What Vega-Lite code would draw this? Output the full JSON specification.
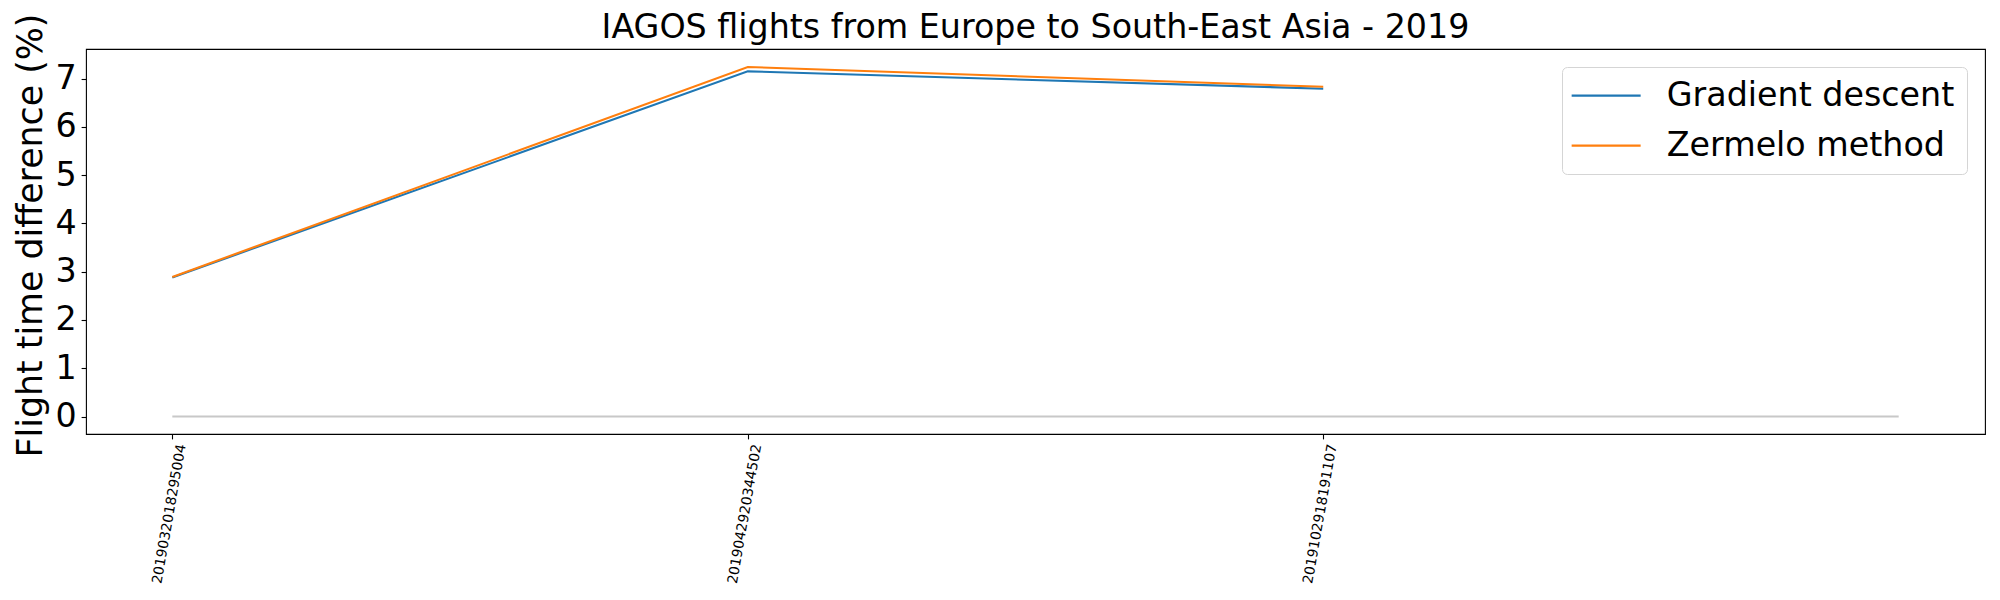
{
  "$schema": "https://vega.github.io/schema/vega-lite/v6.json",
  "autosize": {"type": "none"},
  "width": 1899,
  "height": 385,
  "padding": {"left": 86, "top": 49, "right": 15, "bottom": 166},
  "background": "white",
  "config": {
    "font": "DejaVu Sans",
    "view": {"stroke": "black", "strokeWidth": 1.1},
    "axis": {"grid": false, "domain": false, "tickColor": "black", "labelColor": "black", "titleColor": "black", "tickWidth": 1.1, "tickSize": 4.9, "labelFont": "DejaVu Sans", "titleFont": "DejaVu Sans", "titleFontWeight": "normal"}
  },
  "title": {"text": "IAGOS flights from Europe to South-East Asia - 2019", "fontSize": 33.3, "fontWeight": "normal", "font": "DejaVu Sans", "color": "black", "anchor": "middle", "frame": "group", "baseline": "alphabetic", "offset": 0, "dy": 58},
  "datasets": {
    "zero": [
      {"idx": 0, "diff": 0},
      {"idx": 1, "diff": 0},
      {"idx": 2, "diff": 0},
      {"idx": 3, "diff": 0}
    ],
    "flights": [
      {"idx": 0, "flight": "2019032018295004", "method": "Gradient descent", "diff": 2.88},
      {"idx": 1, "flight": "2019042920344502", "method": "Gradient descent", "diff": 7.15},
      {"idx": 2, "flight": "2019102918191107", "method": "Gradient descent", "diff": 6.79},
      {"idx": 0, "flight": "2019032018295004", "method": "Zermelo method", "diff": 2.89},
      {"idx": 1, "flight": "2019042920344502", "method": "Zermelo method", "diff": 7.24},
      {"idx": 2, "flight": "2019102918191107", "method": "Zermelo method", "diff": 6.83}
    ]
  },
  "encoding": {
    "x": {
      "field": "idx", "type": "quantitative",
      "scale": {"domain": [-0.15, 3.15], "nice": false, "zero": false},
      "axis": {"values": [0, 1, 2], "labelExpr": "['2019032018295004','2019042920344502','2019102918191107'][datum.value]", "labelAngle": -80, "labelFontSize": 13.9, "labelAlign": "right", "labelBaseline": "middle", "labelPadding": 5, "labelOffset": 9, "title": null, "labelOverlap": false}
    },
    "y": {
      "field": "diff", "type": "quantitative",
      "scale": {"domain": [-0.3625, 7.6125], "nice": false, "zero": false},
      "axis": {"values": [0, 1, 2, 3, 4, 5, 6, 7], "labelFontSize": 33.3, "labelPadding": 4.9, "title": "Flight time difference (%)", "titleFontSize": 34.8, "titlePadding": 7, "titleY": 186}
    }
  },
  "layer": [
    {
      "data": {"name": "zero"},
      "mark": {"type": "line", "color": "#c8c8c8", "strokeWidth": 2}
    },
    {
      "data": {"name": "flights"},
      "mark": {"type": "line", "strokeWidth": 2.1},
      "encoding": {
        "color": {
          "field": "method", "type": "nominal",
          "scale": {"domain": ["Gradient descent", "Zermelo method"], "range": ["#1f77b4", "#ff7f0e"]},
          "legend": {"title": null, "orient": "none", "legendX": 1476, "legendY": 18, "symbolType": "M-3.45,0H3.45", "symbolSize": 400, "symbolOffset": 15.5, "symbolStrokeWidth": 2.1, "labelFontSize": 33.3, "labelFont": "DejaVu Sans", "labelColor": "black", "labelOffset": 44, "rowPadding": 16, "padding": 12, "fillColor": "white", "strokeColor": "#d5d5d5", "cornerRadius": 5, "labelLimit": 600}
        }
      }
    }
  ]
}
